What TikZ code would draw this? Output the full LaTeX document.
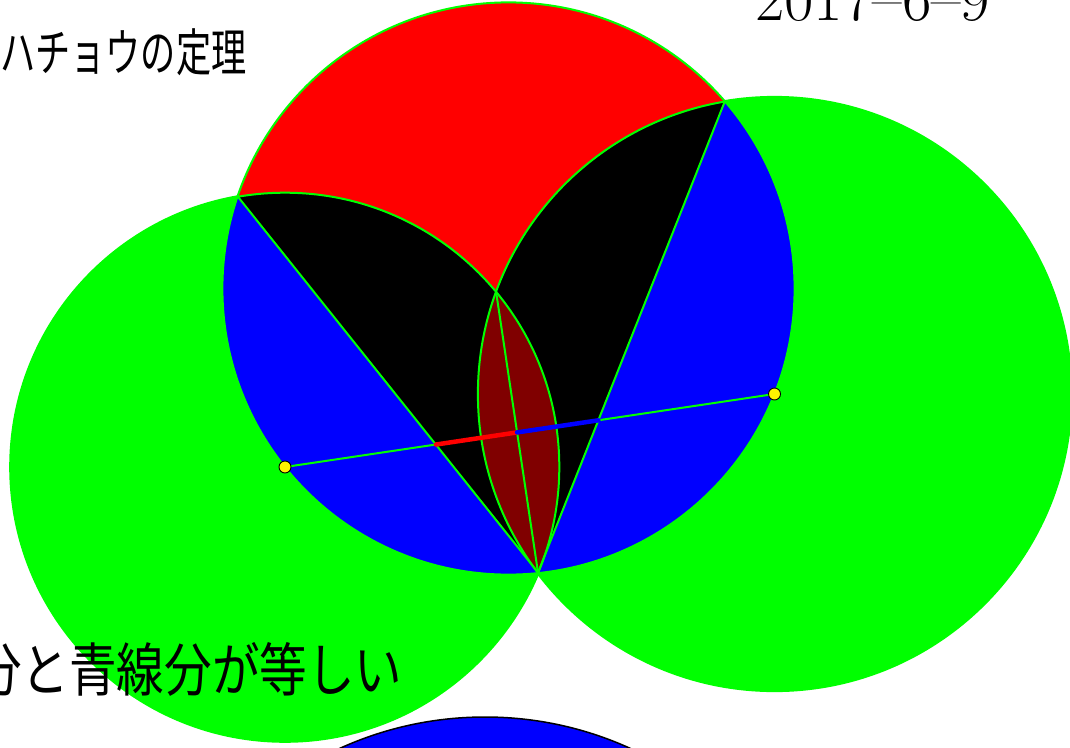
\documentclass[tikz,border=0pt]{standalone}
\usepackage{fontspec}
\usepackage{graphicx}
\newfontfamily\jp{Noto Sans CJK JP}
\usetikzlibrary{calc}
\definecolor{grn}{RGB}{0,255,0}
\definecolor{maroonc}{RGB}{128,0,0}
\begin{document}
\begin{tikzpicture}[x=1pt,y=-1pt,
  gline/.style={draw=grn,line width=2pt},
  ctrdot/.style={circle,fill=yellow,draw=black,line width=0.9pt,minimum size=12pt,inner sep=0pt},
  seg/.style={line width=4.5pt,line cap=round}]
\useasboundingbox (0,0) rectangle (1070,747);
% key points
\coordinate (O1) at (285,467);
\coordinate (O2) at (774.5,394);
\coordinate (P) at (538,572.5);
\coordinate (M) at (508.5,288.5);
\def\rL{274.3}
\def\rR{296.6}
\def\rM{286.1}
% reflections of P
\coordinate (FA) at ($(M)!(P)!(O1)$);
\coordinate (A) at ($(P)!2!(FA)$);
\coordinate (FB) at ($(M)!(P)!(O2)$);
\coordinate (B) at ($(P)!2!(FB)$);
\coordinate (FQ) at ($(O1)!(P)!(O2)$);
\coordinate (Q) at ($(P)!2!(FQ)$);
% green circles
\fill[grn] (O1) circle[radius=\rL pt+1.5pt];
\fill[grn] (O2) circle[radius=\rR pt+1.5pt];
% bottom blue circle
\filldraw[fill=blue,draw=black,line width=1.5pt] (485,1068) circle[radius=351pt];
% middle circle
\fill[red] (M) circle[radius=\rM pt];
\begin{scope}
  \clip (M) circle[radius=\rM pt];
  \fill[black] (O1) circle[radius=\rL pt];
  \fill[black] (O2) circle[radius=\rR pt];
  \fill[blue] (A) -- (P) -- ($(P)!3!90:(A)$) -- ($(A)!3!-90:(P)$) -- cycle;
  \fill[blue] (B) -- (P) -- ($(P)!3!-90:(B)$) -- ($(B)!3!90:(P)$) -- cycle;
  \begin{scope}
    \clip (O1) circle[radius=\rL pt];
    \fill[maroonc] (O2) circle[radius=\rR pt];
  \end{scope}
  \draw[gline] (O1) circle[radius=\rL pt];
  \draw[gline] (O2) circle[radius=\rR pt];
\end{scope}
\draw[gline] (M) circle[radius=\rM pt];
% chords
\draw[gline] (A) -- (P);
\draw[gline] (B) -- (P);
\draw[gline] (Q) -- (P);
\draw[gline] (O1) -- (O2);
% equal segments
\coordinate (X1) at (intersection of O1--O2 and A--P);
\coordinate (Y) at (intersection of O1--O2 and Q--P);
\coordinate (X2) at (intersection of O1--O2 and B--P);
\draw[seg,red] (X1) -- (Y);
\draw[seg,blue] (Y) -- (X2);
% centres
\node[ctrdot] (c1) at (O1) {};
\node[ctrdot] (c2) at (O2) {};
% texts
\node[anchor=west,inner sep=0pt] (title) at (0,52)
  {\jp\fontsize{51}{51}\selectfont\scalebox{0.69}[1]{ハチョウの定理}};
\node[anchor=base west,inner sep=0pt] (date) at (755,20)
  {\fontsize{64}{64}\selectfont 2017--6--9};
\node[anchor=west,inner sep=0pt] (claim) at (-121,669)
  {\jp\fontsize{58}{58}\selectfont\scalebox{0.82}[1]{赤線分と青線分が等しい}};
\end{tikzpicture}
\end{document}
